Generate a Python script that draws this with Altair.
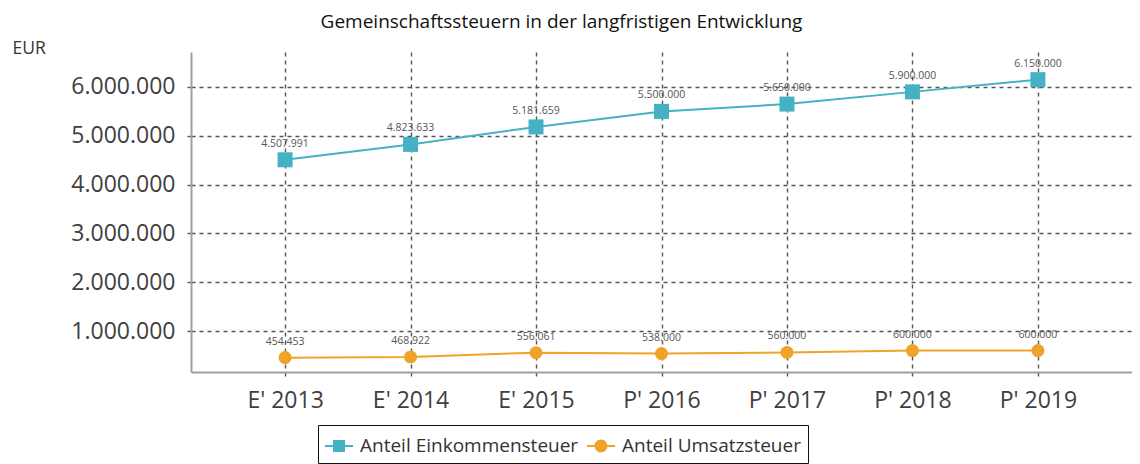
import altair as alt
import pandas as pd

years = ["E' 2013", "E' 2014", "E' 2015", "P' 2016", "P' 2017", "P' 2018", "P' 2019"]
einkommensteuer = [4507991, 4823633, 5181659, 5500000, 5650000, 5900000, 6150000]
umsatzsteuer = [454453, 468922, 556061, 538000, 560000, 600000, 600000]
series_names = ["Anteil Einkommensteuer", "Anteil Umsatzsteuer"]
series_colors = ["#45B1C5", "#F0A329"]
y_ticks = [1000000, 2000000, 3000000, 4000000, 5000000, 6000000]

rows = []
for y, v in zip(years, einkommensteuer):
    rows.append({"year": y, "value": v, "series": series_names[0]})
for y, v in zip(years, umsatzsteuer):
    rows.append({"year": y, "value": v, "series": series_names[1]})
df = pd.DataFrame(rows)

FONT = "Open Sans"

x_enc = alt.X("year:N", sort=years, scale=alt.Scale(type="point", padding=0.75),
              axis=alt.Axis(title=None, labelAngle=0, labelFontSize=23, labelColor="#404040",
                            labelFont=FONT, labelPadding=10, grid=True, gridDash=[4, 4],
                            gridColor="#555555", gridWidth=1.4, tickDash=[4, 4], tickColor="#555555",
                            tickSize=7, tickWidth=1.4, domainColor="#A0A0A0", domainWidth=2))
y_enc = alt.Y("value:Q", scale=alt.Scale(domain=[160000, 6717000], nice=False, zero=False),
              axis=alt.Axis(title="EUR", titleAngle=0, titleX=-179, titleY=-4, titleAlign="left",
                            titleBaseline="middle", titleFontSize=17.5, titleFontWeight="normal",
                            titleFont=FONT, titleColor="#333333",
                            values=y_ticks, format=",.0f", labelFontSize=23, labelColor="#404040",
                            labelFont=FONT, labelPadding=10, grid=True, gridDash=[4, 4],
                            gridColor="#555555", gridWidth=1.4, tickDash=[4, 4], tickColor="#555555",
                            tickSize=6, tickWidth=1.4, domainColor="#A0A0A0", domainWidth=2))

base = alt.Chart(df)
ek = base.transform_filter(alt.datum.series == series_names[0])
us = base.transform_filter(alt.datum.series == series_names[1])

line_ek = ek.mark_line(strokeWidth=2, color=series_colors[0]).encode(x=x_enc, y=y_enc)
line_us = us.mark_line(strokeWidth=2, color=series_colors[1]).encode(x=x_enc, y=y_enc)

squares = ek.mark_point(shape="square", filled=True, size=225, opacity=1,
                        color=series_colors[0]).encode(x=x_enc, y=y_enc)
circles = us.mark_circle(size=170, opacity=1, color=series_colors[1]).encode(x=x_enc, y=y_enc)

labels = base.mark_text(dy=-16, fontSize=10.5, color="#555555", font=FONT).encode(
    x=x_enc, y=y_enc, text=alt.Text("value:Q", format=",.0f"))

sq_path = "M-1,-0.07H1V0.07H-1Z M-0.43,-0.43H0.43V0.43H-0.43Z"
ci_path = "M-1,-0.07H1V0.07H-1Z M0.46,0A0.46,0.46 0 1 1 -0.46,0A0.46,0.46 0 1 1 0.46,0Z"

leg = alt.Legend(title=None, orient="none", legendX=127, legendY=373, direction="horizontal",
                 strokeColor="#111111", padding=7, labelFontSize=19, labelFont=FONT,
                 labelColor="#333333", symbolSize=784, symbolOpacity=1, symbolStrokeWidth=0,
                 columnPadding=8, labelOffset=7, labelLimit=400)

legend_layer = base.mark_point(filled=True, opacity=0).encode(
    x=x_enc, y=y_enc,
    color=alt.Color("series:N", scale=alt.Scale(domain=series_names, range=series_colors), legend=leg),
    shape=alt.Shape("series:N", scale=alt.Scale(domain=series_names, range=[sq_path, ci_path]), legend=leg),
)

chart = alt.layer(line_ek, line_us, squares, circles, labels, legend_layer).properties(
    width=941, height=320,
    title=alt.TitleParams("Gemeinschaftssteuern in der langfristigen Entwicklung", anchor="middle",
                          dx=-100, offset=7, fontSize=19, fontWeight="normal", font=FONT, color="#111111"),
    autosize=alt.AutoSizeParams(type="none"),
    padding={"left": 183, "top": 44, "right": 0, "bottom": 92},
).configure(
    locale={"number": {"decimal": ",", "thousands": ".", "grouping": [3], "currency": ["", " €"]}}
).configure_view(stroke="transparent")

chart.save("out.html", embed_options={"renderer": "svg", "actions": False})
